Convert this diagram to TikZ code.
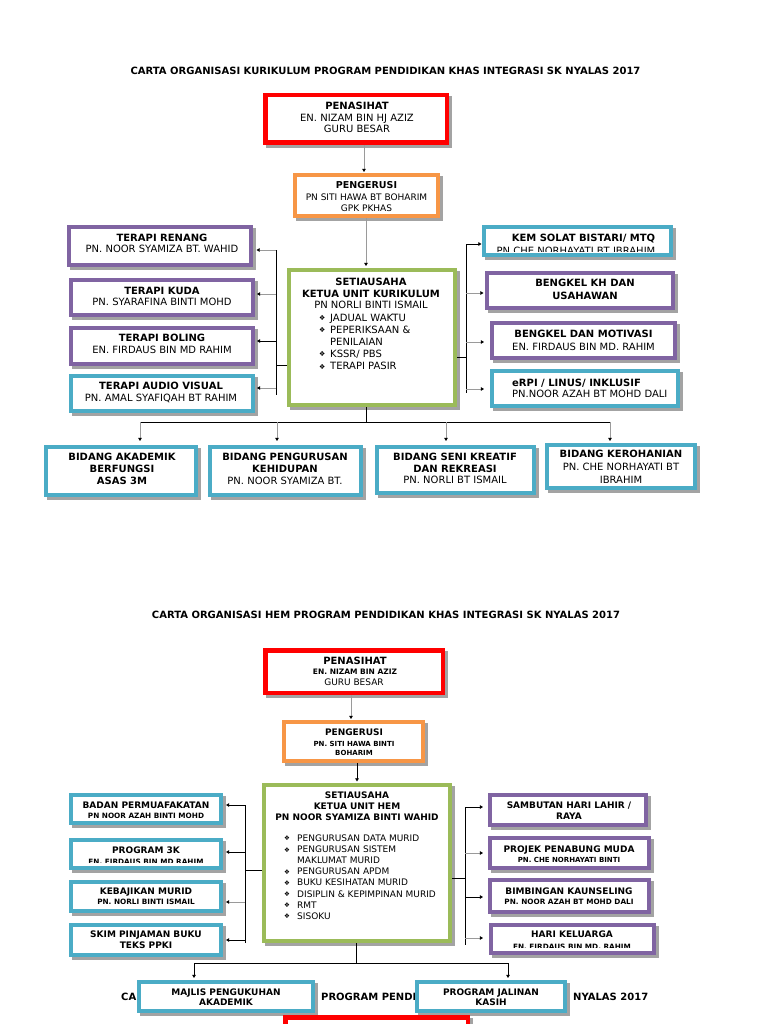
\documentclass[tikz,border=0pt]{standalone}
\usepackage{fontspec}
\setmainfont{DejaVu Sans}
\usetikzlibrary{arrows.meta}
\definecolor{cred}{HTML}{FF0000}
\definecolor{corange}{HTML}{F79646}
\definecolor{cgreen}{HTML}{9BBB59}
\definecolor{cpurple}{HTML}{8064A2}
\definecolor{cblue}{HTML}{4BACC6}
\definecolor{cshadow}{HTML}{A3A3A3}
\definecolor{cline}{HTML}{9A9A9A}
\newcommand\myfs[2]{\fontsize{#1}{#2}\selectfont}
\newcommand\bulA{\makebox[11pt][l]{\raisebox{0.8pt}{\myfs{7}{7}❖}}}
\newcommand\bulB{\makebox[13pt][l]{\raisebox{0.6pt}{\myfs{6.5}{7}❖}}}
% [line width] name x1 y1 x2 y2 colour  (outer edges, in px)
\newcommand\obox[7][4]{%
  \fill[cshadow] ({#3+3},{#4+3}) rectangle ({#5+3},{#6+3});
  \node[draw=#7, line width=#1pt, fill=white, inner sep=0pt,
        minimum width={#5-#3-#1}, minimum height={#6-#4-#1}]
        (#2) at ({(#3+#5)/2},{(#4+#6)/2}) {};}
\tikzset{
  tx/.style={inner sep=0pt, align=center, text depth=0pt},
  blk/.style={draw=black, line width=0.9pt},
  gry/.style={draw=cline, line width=0.7pt},
  ahead/.style={-{Triangle[length=3.2pt,width=3.6pt,color=black]}},
  barr/.style={blk, ahead},
  garr/.style={gry, ahead},
}
\begin{document}
\begin{tikzpicture}[x=1pt,y=-1pt]
\useasboundingbox (0,0) rectangle (768,1024);
\fill[white] (0,0) rectangle (768,1024);
\clip (0,0) rectangle (768,1024);

% ================= SECTION 1 =================
\node[tx, font=\bfseries\myfs{10}{12}] (title1) at (385.5,71)
  {CARTA ORGANISASI KURIKULUM PROGRAM PENDIDIKAN KHAS INTEGRASI SK NYALAS 2017};

\obox[4.5]{pen1}{263}{93}{449}{145}{cred}
\obox{peng1}{293}{173}{440}{218}{corange}
\obox{set1}{287}{268}{457}{407}{cgreen}
\obox{renang}{67}{225}{253}{267}{cpurple}
\obox{kuda}{69}{278}{255}{317}{cpurple}
\obox{boling}{69}{326}{255}{366}{cpurple}
\obox{audio}{69}{374}{255}{413}{cblue}
\obox{kem}{482}{225}{673}{257}{cblue}
\obox{bkh}{485}{271}{675}{310}{cpurple}
\obox{bmot}{490}{321}{677}{360}{cpurple}
\obox{erpi}{490}{369}{680}{408}{cblue}
\obox{akad}{44}{445}{198}{497}{cblue}
\obox{kehid}{208}{445}{363}{497}{cblue}
\obox{seni}{375}{445}{536}{495}{cblue}
\obox{kero}{545}{443}{697}{490}{cblue}

\node[tx, font=\myfs{10}{11.5}] (pen1-t) at (357,117.5)
  {\textbf{PENASIHAT}\\EN. NIZAM BIN HJ AZIZ\\GURU BESAR};
\node[tx, font=\myfs{9}{11.5}] (peng1-t) at (366.5,196.5)
  {\textbf{\myfs{9.5}{11.5}PENGERUSI}\\PN SITI HAWA BT BOHARIM\\GPK PKHAS};
\node[tx, font=\myfs{10}{11.5}] (set1-t) at (371,293.5)
  {\textbf{SETIAUSAHA}\\\textbf{KETUA UNIT KURIKULUM}\\PN NORLI BINTI ISMAIL};
\node[inner sep=0pt, anchor=north west, align=left, font=\myfs{10}{12.2}] (set1-l) at (319,313.7)
  {\bulA JADUAL WAKTU\\\bulA PEPERIKSAAN \&\\\hspace*{11pt}PENILAIAN\\\bulA KSSR/ PBS\\\bulA TERAPI PASIR};

\node[tx, font=\myfs{10}{11.5}] (renang-t) at (162,243.5)
  {\textbf{TERAPI RENANG}\\PN. NOOR SYAMIZA BT. WAHID};
\node[tx, font=\myfs{10}{11.5}] (kuda-t) at (162,296.5)
  {\textbf{TERAPI KUDA}\\PN. SYARAFINA BINTI MOHD};
\node[tx, font=\myfs{10}{11.5}] (boling-t) at (162,344)
  {\textbf{TERAPI BOLING}\\EN. FIRDAUS BIN MD RAHIM};
\node[tx, font=\myfs{10}{11.5}] (audio-t) at (161,392)
  {\textbf{TERAPI AUDIO VISUAL}\\PN. AMAL SYAFIQAH BT RAHIM};

\node[tx, font=\bfseries\myfs{10}{12}] (kem-t) at (583.5,238) {KEM SOLAT BISTARI/ MTQ};
\begin{scope}
  \clip (486,229) rectangle (669,251);
  \node[inner sep=0pt, anchor=base, font=\myfs{10}{12}] (kem-t2) at (576,254.5) {PN CHE NORHAYATI BT IBRAHIM};
\end{scope}
\node[tx, font=\bfseries\myfs{10}{12.5}] (bkh-t) at (585,289.5) {BENGKEL KH DAN\\USAHAWAN};
\node[tx, font=\myfs{10}{12.5}] (bmot-t) at (583.5,340.5)
  {\textbf{BENGKEL DAN MOTIVASI}\\EN. FIRDAUS BIN MD. RAHIM};
\node[inner sep=0pt, align=left, text depth=0pt, anchor=west, font=\myfs{10}{11.5}] (erpi-t) at (512,388.5)
  {\textbf{eRPI / LINUS/ INKLUSIF}\\PN.NOOR AZAH BT MOHD DALI};

\node[tx, font=\bfseries\myfs{10}{12}] (akad-t) at (122,469) {BIDANG AKADEMIK\\BERFUNGSI\\ASAS 3M};
\node[tx, font=\myfs{10}{12}] (kehid-t) at (285,469)
  {\textbf{BIDANG PENGURUSAN}\\\textbf{KEHIDUPAN}\\PN. NOOR SYAMIZA BT.};
\node[tx, font=\myfs{10}{11.5}] (seni-t) at (455,468.5)
  {\textbf{BIDANG SENI KREATIF}\\\textbf{DAN REKREASI}\\PN. NORLI BT ISMAIL};
\node[tx, font=\myfs{10}{13}] (kero-t) at (621,467)
  {\textbf{BIDANG KEROHANIAN}\\PN. CHE NORHAYATI BT\\IBRAHIM};

% connectors section 1
\coordinate (c1) at (364,0);
\coordinate (c2) at (366,0);
\draw[garr, shorten >=1pt] (pen1.south -| c1) -- (peng1.north -| c1);
\draw[garr, shorten >=2pt] (peng1.south -| c2) -- (set1.north -| c2);

\coordinate (lbt) at (276,250);
\coordinate (lbb) at (276,395);
\coordinate (lbm) at (276,365);
\draw[blk] (lbt) -- (lbb);
\draw[blk] (set1.west |- lbm) -- (lbm);
\coordinate (lb1) at (276,250);
\coordinate (lb2) at (276,294);
\coordinate (lb3) at (276,341);
\coordinate (lb4) at (276,388);
\draw[garr, shorten >=3.5pt] (lb1) -- (lb1 -| renang.east);
\draw[garr, shorten >=2pt] (lb2) -- (lb2 -| kuda.east);
\draw[barr, shorten >=2pt] (lb3) -- (lb3 -| boling.east);
\draw[garr, shorten >=2pt] (lb4) -- (lb4 -| audio.east);

\coordinate (rbt) at (466,244);
\coordinate (rbb) at (466,393);
\coordinate (rbm) at (466,357);
\draw[blk] (rbt) -- (rbb);
\draw[blk] (set1.east |- rbm) -- (rbm);
\coordinate (rb1) at (466,244);
\coordinate (rb2) at (466,293);
\coordinate (rb3) at (466,342);
\coordinate (rb4) at (466,389);
\draw[barr, shorten >=0.5pt] (rb1) -- (rb1 -| kem.west);
\draw[garr, shorten >=1.5pt] (rb2) -- (rb2 -| bkh.west);
\draw[garr, shorten >=6pt] (rb3) -- (rb3 -| bmot.west);
\draw[garr, shorten >=6pt] (rb4) -- (rb4 -| erpi.west);

\coordinate (bm1) at (366,422);
\coordinate (d1) at (140,422);
\coordinate (d2) at (277,422);
\coordinate (d3) at (446,422);
\coordinate (d4) at (610,422);
\draw[blk] (set1.south -| bm1) -- (bm1);
\draw[blk] (d1) -- (d4);
\draw[garr, shorten >=4pt] (d1) -- (d1 |- akad.north);
\draw[garr, shorten >=4pt] (d2) -- (d2 |- kehid.north);
\draw[garr, shorten >=4pt] (d3) -- (d3 |- seni.north);
\draw[garr, shorten >=2pt] (d4) -- (d4 |- kero.north);

% ================= SECTION 2 =================
\node[tx, font=\bfseries\myfs{10}{12}] (title2) at (386,615)
  {CARTA ORGANISASI HEM PROGRAM PENDIDIKAN KHAS INTEGRASI SK NYALAS 2017};

\obox[4.5]{pen2}{263}{648}{445}{695}{cred}
\obox{peng2}{282}{720}{425}{763}{corange}
\obox{set2}{262}{783}{452}{943}{cgreen}
\obox{badan}{69}{793}{223}{825}{cblue}
\obox{p3k}{69}{838}{223}{870}{cblue}
\obox{kebaj}{69}{880}{223}{913}{cblue}
\obox{skim}{69}{923}{223}{957}{cblue}
\obox{samb}{488}{793}{648}{827}{cpurple}
\obox{projek}{488}{836}{651}{870}{cpurple}
\obox{bimb}{488}{878}{651}{914}{cpurple}
\obox{hari}{489}{923}{656}{955}{cpurple}

\node[tx, font=\bfseries\myfs{10}{12}] (pen2-t1) at (355,661) {PENASIHAT};
\node[tx, font=\bfseries\myfs{7.5}{9}] (pen2-t2) at (355,672) {EN. NIZAM BIN AZIZ};
\node[tx, font=\myfs{9}{11}] (pen2-t3) at (354,682) {GURU BESAR};
\node[tx, font=\bfseries\myfs{9}{11}] (peng2-t1) at (354,732) {PENGERUSI};
\node[tx, font=\bfseries\myfs{7}{9.3}] (peng2-t2) at (354,748.5) {PN. SITI HAWA BINTI\\BOHARIM};

\node[tx, font=\bfseries\myfs{9}{11}] (set2-t) at (357,806)
  {SETIAUSAHA\\KETUA UNIT HEM\\PN NOOR SYAMIZA BINTI WAHID};
\node[inner sep=0pt, anchor=north west, align=left, font=\myfs{9}{11.1}] (set2-l) at (284,834.7)
  {\bulB PENGURUSAN DATA MURID\\\bulB PENGURUSAN SISTEM\\\hspace*{13pt}MAKLUMAT MURID\\\bulB PENGURUSAN APDM\\\bulB BUKU KESIHATAN MURID\\\bulB DISIPLIN \& KEPIMPINAN MURID\\\bulB RMT\\\bulB SISOKU};

\node[tx, font=\bfseries\myfs{9}{11}] (badan-t1) at (146,805) {BADAN PERMUAFAKATAN};
\node[tx, font=\bfseries\myfs{7.3}{9}] (badan-t2) at (146,815.5) {PN NOOR AZAH BINTI MOHD};
\node[tx, font=\bfseries\myfs{9}{11}] (p3k-t1) at (146,850) {PROGRAM 3K};
\begin{scope}
  \clip (73,842) rectangle (219,862);
  \node[inner sep=0pt, anchor=base, font=\bfseries\myfs{7.3}{9}] (p3k-t2) at (146,864.5) {EN. FIRDAUS BIN MD RAHIM};
\end{scope}
\node[tx, font=\bfseries\myfs{9}{11}] (kebaj-t1) at (146,891) {KEBAJIKAN MURID};
\node[tx, font=\bfseries\myfs{7.3}{9}] (kebaj-t2) at (146,902) {PN. NORLI BINTI ISMAIL};
\node[tx, font=\bfseries\myfs{9}{11}] (skim-t) at (146,939.5) {SKIM PINJAMAN BUKU\\TEKS PPKI};

\node[tx, font=\bfseries\myfs{9}{11}] (samb-t) at (569,810.5) {SAMBUTAN HARI LAHIR /\\RAYA};
\node[tx, font=\bfseries\myfs{9}{11}] (projek-t1) at (569,849) {PROJEK PENABUNG MUDA};
\node[tx, font=\bfseries\myfs{7}{9}] (projek-t2) at (569,859.5) {PN. CHE NORHAYATI BINTI};
\node[tx, font=\bfseries\myfs{9}{11}] (bimb-t1) at (569,891) {BIMBINGAN KAUNSELING};
\node[tx, font=\bfseries\myfs{7.3}{9}] (bimb-t2) at (569,902) {PN. NOOR AZAH BT MOHD DALI};
\node[tx, font=\bfseries\myfs{9}{11}] (hari-t1) at (572,934) {HARI KELUARGA};
\begin{scope}
  \clip (493,927) rectangle (652,947);
  \node[inner sep=0pt, anchor=base, font=\bfseries\myfs{7.3}{9}] (hari-t2) at (572,949.5) {EN. FIRDAUS BIN MD. RAHIM};
\end{scope}

% connectors section 2
\coordinate (c3) at (351,0);
\coordinate (c4) at (357,0);
\draw[garr, shorten >=1pt] (pen2.south -| c3) -- (peng2.north -| c3);
\draw[barr, shorten >=1.5pt] (peng2.south -| c4) -- (set2.north -| c4);

\coordinate (lct) at (245,805);
\coordinate (lcb) at (245,943);
\coordinate (lcm) at (245,870);
\draw[blk] (lct) -- (lcb);
\draw[blk] (set2.west |- lcm) -- (lcm);
\coordinate (lc1) at (245,805);
\coordinate (lc2) at (245,852);
\coordinate (lc3) at (245,902);
\coordinate (lc4) at (245,940);
\draw[barr, shorten >=3pt] (lc1) -- (lc1 -| badan.east);
\draw[barr, shorten >=3pt] (lc2) -- (lc2 -| p3k.east);
\draw[garr, shorten >=3pt] (lc3) -- (lc3 -| kebaj.east);
\draw[barr, shorten >=3pt] (lc4) -- (lc4 -| skim.east);

\coordinate (rct) at (465,807);
\coordinate (rcb) at (465,945);
\coordinate (rcm) at (465,878);
\draw[blk] (rct) -- (rcb);
\draw[blk] (set2.east |- rcm) -- (rcm);
\coordinate (rc1) at (465,807);
\coordinate (rc2) at (465,853);
\coordinate (rc3) at (465,897);
\coordinate (rc4) at (465,938);
\draw[barr, shorten >=5pt] (rc1) -- (rc1 -| samb.west);
\draw[garr, shorten >=5pt] (rc2) -- (rc2 -| projek.west);
\draw[barr, shorten >=5pt] (rc3) -- (rc3 -| bimb.west);
\draw[garr, shorten >=6pt] (rc4) -- (rc4 -| hari.west);

% third (partly hidden) title
\node[inner sep=0pt, anchor=west, text depth=0pt, font=\bfseries\myfs{10}{12}] (title3a) at (121,997) {CA};
\node[inner sep=0pt, anchor=west, text depth=0pt, font=\bfseries\myfs{10}{12}] (title3b) at (321,997) {PROGRAM PENDI};
\node[inner sep=0pt, anchor=west, text depth=0pt, font=\bfseries\myfs{10}{12}] (title3c) at (573,997) {NYALAS 2017};

\obox{majlis}{137}{980}{315}{1013}{cblue}
\obox{jalin}{415}{980}{567}{1013}{cblue}
\obox[4.5]{pen3}{283}{1015}{470}{1075}{cred}

\node[tx, font=\bfseries\myfs{9}{10.5}] (majlis-t) at (226,997) {MAJLIS PENGUKUHAN\\AKADEMIK};
\node[tx, font=\bfseries\myfs{9}{10.5}] (jalin-t) at (491,997) {PROGRAM JALINAN\\KASIH};

\coordinate (bm2) at (356,963);
\coordinate (e1) at (194,963);
\coordinate (e2) at (508,963);
\draw[blk] (set2.south -| bm2) -- (bm2);
\draw[blk] (e1) -- (e2);
\draw[barr, shorten >=2pt] (e1) -- (e1 |- majlis.north);
\draw[barr, shorten >=2pt] (e2) -- (e2 |- jalin.north);
\end{tikzpicture}
\end{document}
